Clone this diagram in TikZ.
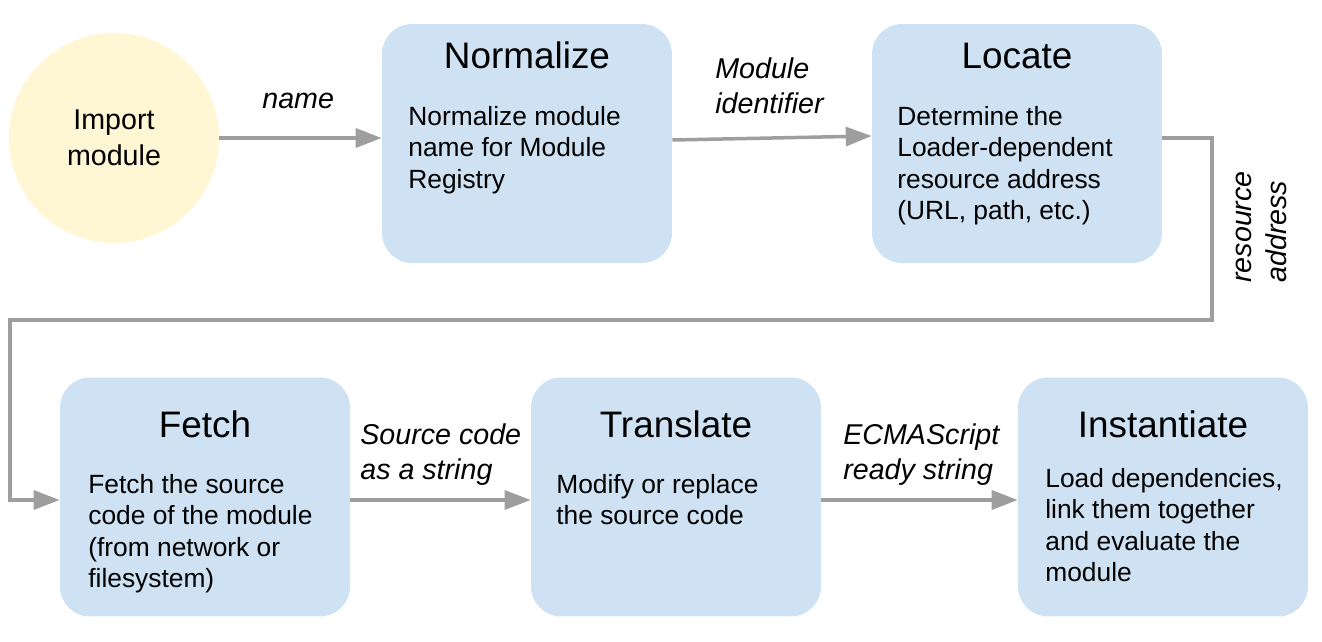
\documentclass[tikz,border=0pt]{standalone}
\usepackage{fontspec}
\setmainfont{Liberation Sans}
\usetikzlibrary{arrows.meta,positioning}
\definecolor{stageblue}{HTML}{CFE2F3}
\definecolor{startyellow}{HTML}{FFF6D3}
\definecolor{flowgray}{HTML}{9E9E9E}
\tikzset{
	stagebox/.style={rectangle,rounded corners=0.6cm,fill=stageblue,minimum width=5.8cm,minimum height=4.78cm,inner sep=0},
	startcircle/.style={circle,fill=startyellow,minimum size=4.2cm,inner sep=0,align=center,font=\fontsize{16.3}{20.4}\selectfont},
	stagetitle/.style={anchor=base,inner sep=0,font=\fontsize{21}{25}\selectfont},
	stagetext/.style={anchor=north west,inner sep=0,align=left,font=\fontsize{15}{17.9}\selectfont},
	flowlabel/.style={anchor=north west,inner sep=0,align=left,font=\fontsize{16.3}{19.8}\selectfont\itshape},
	diredge/.style={-{Triangle[length=0.52cm,width=0.38cm]},color=flowgray,line width=0.07cm}
}

\begin{document}
\begin{tikzpicture}[x=0.02cm,y=-0.02cm]
				\useasboundingbox (0,0) rectangle (1322,642);
				
				%%%% start
				\node[startcircle] (imp) at (114,138) {Import\\module};
				
				%%%% upper row
				\node[stagebox] (norm) at (527,143.5) {};
				\node[stagetitle] (norm-t) at (527,69) {Normalize};
				\node[stagetext] (norm-b) at (408,106) {Normalize module\\name for Module\\Registry};
				
				\node[stagebox] (loc) at (1017,143.5) {};
				\node[stagetitle] (loc-t) at (1017,69) {Locate};
				\node[stagetext] (loc-b) at (897,106) {Determine the\\Loader-dependent\\resource address\\(URL, path, etc.)};
				
				%%%% lower row
				\node[stagebox] (fetch) at (205,497) {};
				\node[stagetitle] (fetch-t) at (205,437) {Fetch};
				\node[stagetext] (fetch-b) at (88,474) {Fetch the source\\code of the module\\(from network or\\filesystem)};
				
				\node[stagebox] (trans) at (676,497) {};
				\node[stagetitle] (trans-t) at (676,437) {Translate};
				\node[stagetext] (trans-b) at (556,474) {Modify or replace\\the source code};
				
				\node[stagebox] (inst) at (1163,497) {};
				\node[stagetitle] (inst-t) at (1163,437) {Instantiate};
				\node[stagetext] (inst-b) at (1045,468) {Load dependencies,\\link them together\\and evaluate the\\module};
				
				%%%% labels
				\node[flowlabel,anchor=base west] (l-name) at (262,109) {name};
				\node[flowlabel] (l-id) at (715,57.5) {Module\\identifier};
				\node[flowlabel,rotate=90] (l-addr) at (1236,283) {resource\\address};
				\node[flowlabel] (l-src) at (360,423.5) {Source code\\as a string};
				\node[flowlabel] (l-ecma) at (843,423.5) {ECMAScript\\ready string};
				
				%%%% connectors
				\coordinate (bendA) at (1212,138);
				\coordinate (bendB) at (1212,320);
				\coordinate (bendC) at (10,320);
				\coordinate (bendD) at (10,500);
				
				\draw[diredge] (imp.east) -- (imp.east -| norm.west);
				\draw[diredge] ([yshift=-0.04cm]norm.east |- imp.east) -- ([yshift=0.04cm]loc.west |- imp.east);
				\draw[diredge] (loc.east |- bendA) -- (bendA) -- (bendB) -- (bendC) -- (bendD) -- (bendD -| fetch.west);
				\draw[diredge] (fetch.east |- bendD) -- (trans.west |- bendD);
				\draw[diredge] (trans.east |- bendD) -- (inst.west |- bendD);
				
\end{tikzpicture}
\end{document}
